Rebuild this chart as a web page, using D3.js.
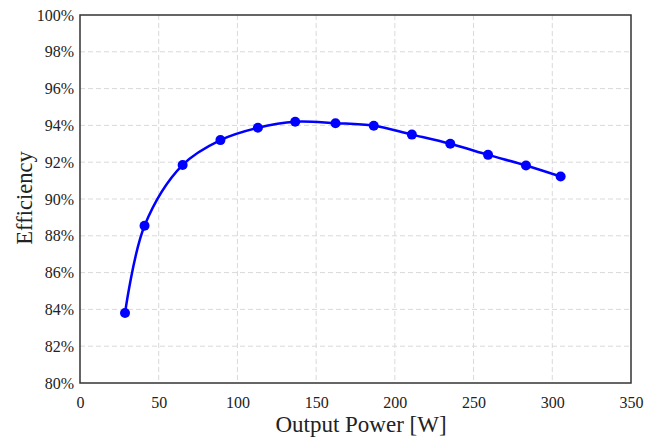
<!DOCTYPE html>
<html>
<head>
<meta charset="utf-8">
<script src="https://cdn.jsdelivr.net/npm/d3@7"></script>
<style>
  body { margin: 0; background: #fff; }
</style>
</head>
<body>
<div id="chart"></div>
<script>
const power = [28.6, 41, 65.2, 89.2, 113, 136.7, 162.3, 186.6, 210.8, 235.2, 259.2, 283.3, 305.3];
const efficiency = [83.8, 88.55, 91.85, 93.2, 93.87, 94.2, 94.12, 93.98, 93.5, 93.0, 92.4, 91.82, 91.22];
const xTicks = [0, 50, 100, 150, 200, 250, 300, 350];
const yTicks = [80, 82, 84, 86, 88, 90, 92, 94, 96, 98, 100];

const serif = "'Liberation Serif', 'Times New Roman', serif";
const width = 667;
const height = 443;
const margin = { top: 15, right: 36, bottom: 60, left: 80 };
const innerW = width - margin.left - margin.right;
const innerH = height - margin.top - margin.bottom;

const svg = d3.select("#chart")
    .append("svg")
    .attr("width", width)
    .attr("height", height);

const g = svg.append("g")
    .attr("transform", `translate(${margin.left},${margin.top})`);

const x = d3.scaleLinear().domain([0, 350]).range([0, innerW]);
const y = d3.scaleLinear().domain([80, 100]).range([innerH, 0]);

// grid
g.append("g")
    .selectAll("line")
    .data(xTicks.slice(1, -1))
    .enter().append("line")
    .attr("x1", d => x(d)).attr("x2", d => x(d))
    .attr("y1", 0).attr("y2", innerH)
    .attr("stroke", "#d9d9d9").attr("stroke-dasharray", "5,3");

g.append("g")
    .selectAll("line")
    .data(yTicks.slice(1, -1))
    .enter().append("line")
    .attr("y1", d => y(d)).attr("y2", d => y(d))
    .attr("x1", 0).attr("x2", innerW)
    .attr("stroke", "#d9d9d9").attr("stroke-dasharray", "5,3");

// axes
const xAxis = g.append("g")
    .attr("transform", `translate(0,${innerH})`)
    .call(d3.axisBottom(x).tickValues(xTicks).tickSize(0).tickPadding(14));
xAxis.selectAll("text")
    .style("font-family", serif).style("font-size", "16px").style("fill", "#222");
xAxis.select(".domain").remove();

const yAxis = g.append("g")
    .call(d3.axisLeft(y).tickValues(yTicks).tickSize(0).tickPadding(6).tickFormat(d => d + "%"));
yAxis.selectAll("text")
    .style("font-family", serif).style("font-size", "16px").style("fill", "#222");
yAxis.select(".domain").remove();

// frame
g.append("rect")
    .attr("width", innerW).attr("height", innerH)
    .attr("fill", "none").attr("stroke", "#333").attr("stroke-width", 1.5);

// line
const pts = power.map((p, i) => ({ p, e: efficiency[i] }));
g.append("path")
    .datum(pts)
    .attr("fill", "none")
    .attr("stroke", "#0000ff")
    .attr("stroke-width", 2.5)
    .attr("d", d3.line().x(d => x(d.p)).y(d => y(d.e)).curve(d3.curveCatmullRom.alpha(0.5)));

g.selectAll("circle")
    .data(pts)
    .enter().append("circle")
    .attr("cx", d => x(d.p))
    .attr("cy", d => y(d.e))
    .attr("r", 5)
    .attr("fill", "#0000ff");

// labels
svg.append("text")
    .attr("x", 361)
    .attr("y", 432)
    .attr("text-anchor", "middle")
    .style("font-family", serif)
    .style("font-size", "23px")
    .style("fill", "#222")
    .text("Output Power [W]");

svg.append("text")
    .attr("transform", `translate(32,198) rotate(-90)`)
    .attr("text-anchor", "middle")
    .style("font-family", serif)
    .style("font-size", "22.5px")
    .style("fill", "#222")
    .text("Efficiency");
</script>
</body>
</html>
